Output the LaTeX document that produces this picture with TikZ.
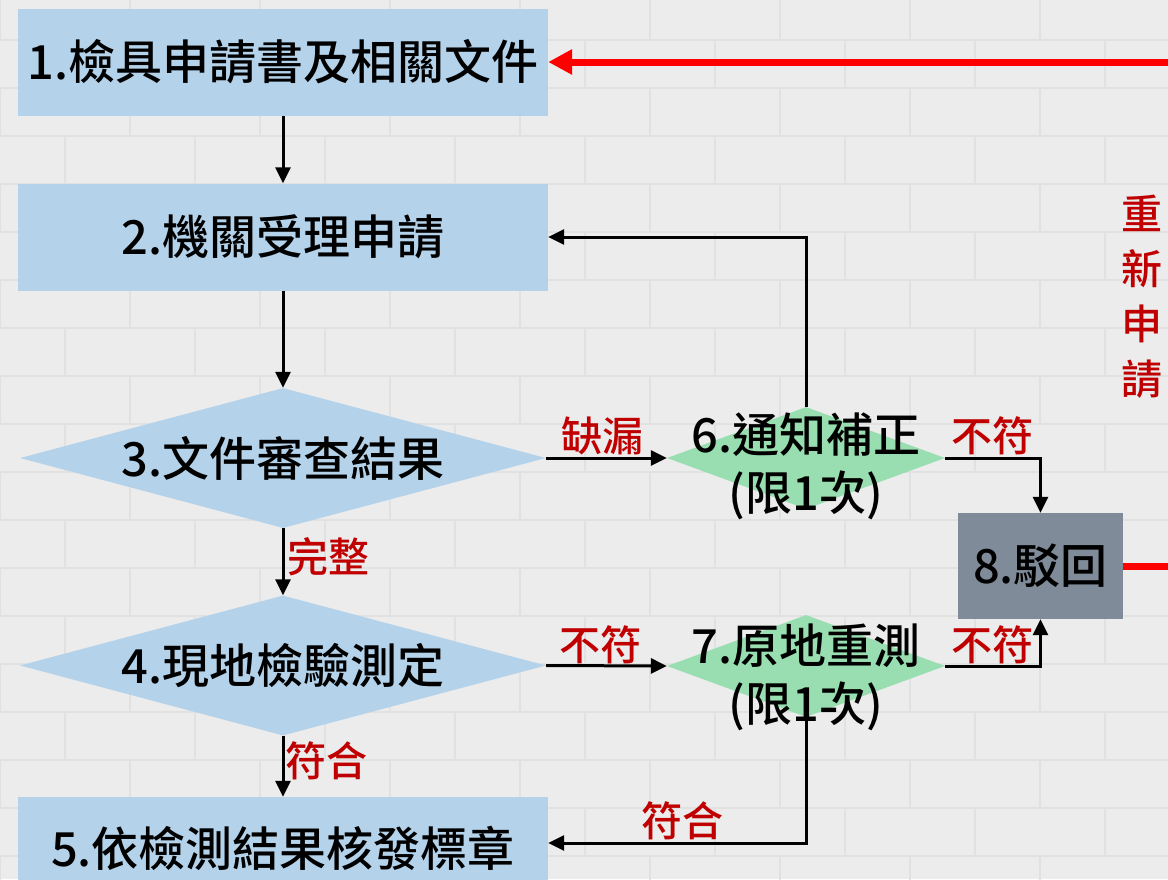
\documentclass[tikz,border=0pt]{standalone}
\usepackage{fontspec}
\newfontfamily\cjk{Noto Sans CJK TC Medium}
\usetikzlibrary{shapes.geometric,arrows.meta}
\definecolor{boxblue}{RGB}{180,211,235}
\definecolor{dgreen}{RGB}{152,222,176}
\definecolor{rejgray}{RGB}{127,139,153}
\definecolor{lblred}{RGB}{192,0,0}
\definecolor{wall}{RGB}{236,236,236}
\definecolor{mortar}{RGB}{225,225,225}
\begin{document}
\begin{tikzpicture}[x=1pt,y=-1pt,
  box/.style={rectangle, fill=boxblue, minimum width=530pt, minimum height=107pt, inner sep=0pt,
    font=\cjk\fontsize{47}{58}\selectfont},
  bigdia/.style={diamond, fill=boxblue, minimum width=526pt, minimum height=140pt, inner sep=0pt},
  smalldia/.style={diamond, fill=dgreen, minimum width=278pt, minimum height=102pt, inner sep=0pt},
  rejbox/.style={rectangle, fill=rejgray, minimum width=165pt, minimum height=106pt, inner sep=0pt,
    font=\cjk\fontsize{47}{58}\selectfont},
  txt/.style={inner sep=0pt, align=center, font=\cjk\fontsize{47}{58}\selectfont},
  lbl/.style={inner sep=0pt, text=lblred, font=\cjk\fontsize{41}{55}\selectfont},
  arr/.style={draw=black, line width=3pt, -{Triangle[length=16pt,width=15pt]}},
  redarr/.style={draw=red, line width=7pt, -{Triangle[length=24pt,width=24pt]}},
  redline/.style={draw=red, line width=7pt}
]
\clip (0,0) rectangle (1168,879);
\useasboundingbox (0,0) rectangle (1168,879);
% brick wall background
\fill[wall] (0,0) rectangle (1168,879);
\foreach \r in {0,...,19}{
  \pgfmathsetmacro\yy{\r*48-8}
  \pgfmathsetmacro\off{mod(\r,2)*65}
  \draw[mortar,line width=2pt] (0,\yy) -- (1168,\yy);
  \foreach \k in {0,...,9}{
    \draw[mortar,line width=2pt] ({\k*130+\off},\yy) -- ({\k*130+\off},{\yy+48});
  }
}
% nodes
\node[box] (b1) at (283,62) {1.檢具申請書及相關文件};
\node[box] (b2) at (283,237) {2.機關受理申請};
\node[bigdia] (d3) at (283,458) {};
\node[bigdia] (d4) at (283,665.5) {};
\node[box, minimum height=92pt] (b5) at (283,843) {};
\node[smalldia] (d6) at (806,458) {};
\node[smalldia] (d7) at (806,666) {};
\node[rejbox] (b8) at (1040.5,566) {8.駁回};
\node[txt] (t3) at (d3.center) {3.文件審查結果};
\node[txt] (t4) at (d4.center) {4.現地檢驗測定};
\node[txt] (t5) at (283,848) {5.依檢測結果核發標章};
\node[txt] (t6) at (806,466) {6.通知補正\\(限1次)};
\node[txt] (t7) at (806,677) {7.原地重測\\(限1次)};
\coordinate (redin) at (1190,62);
\coordinate (redout) at (1190,566);
% connectors
\draw[arr] (b1.south) -- (b2.north);
\draw[arr] (b2.south) -- (d3.north);
\draw[arr] (d3.south) -- (d4.north);
\draw[arr] (d4.south) -- (b5.north);
\draw[arr] (d3.east) -- (d6.west);
\draw[arr] (d4.east) -- (d7.west);
\draw[arr] (d6.north) |- (b2.east);
\draw[arr] (d7.south) |- (b5.east);
\draw[arr] (d6.east) -| (b8.north);
\draw[arr] (d7.east) -| (b8.south);
\draw[redarr] (redin) -- (b1.east);
\draw[redline] (b8.east) -- (redout);
% labels
\node[lbl] (l1) at (602,436) {缺漏};
\node[lbl] (l2) at (992,436) {不符};
\node[lbl] (l3) at (328,557) {完整};
\node[lbl] (l4) at (600,645) {不符};
\node[lbl] (l5) at (992,645) {不符};
\node[lbl] (l6) at (326,761) {符合};
\node[lbl] (l7) at (682,821) {符合};
\node[lbl, align=center] (l8) at (1142,297) {重\\新\\申\\請};
\end{tikzpicture}
\end{document}
